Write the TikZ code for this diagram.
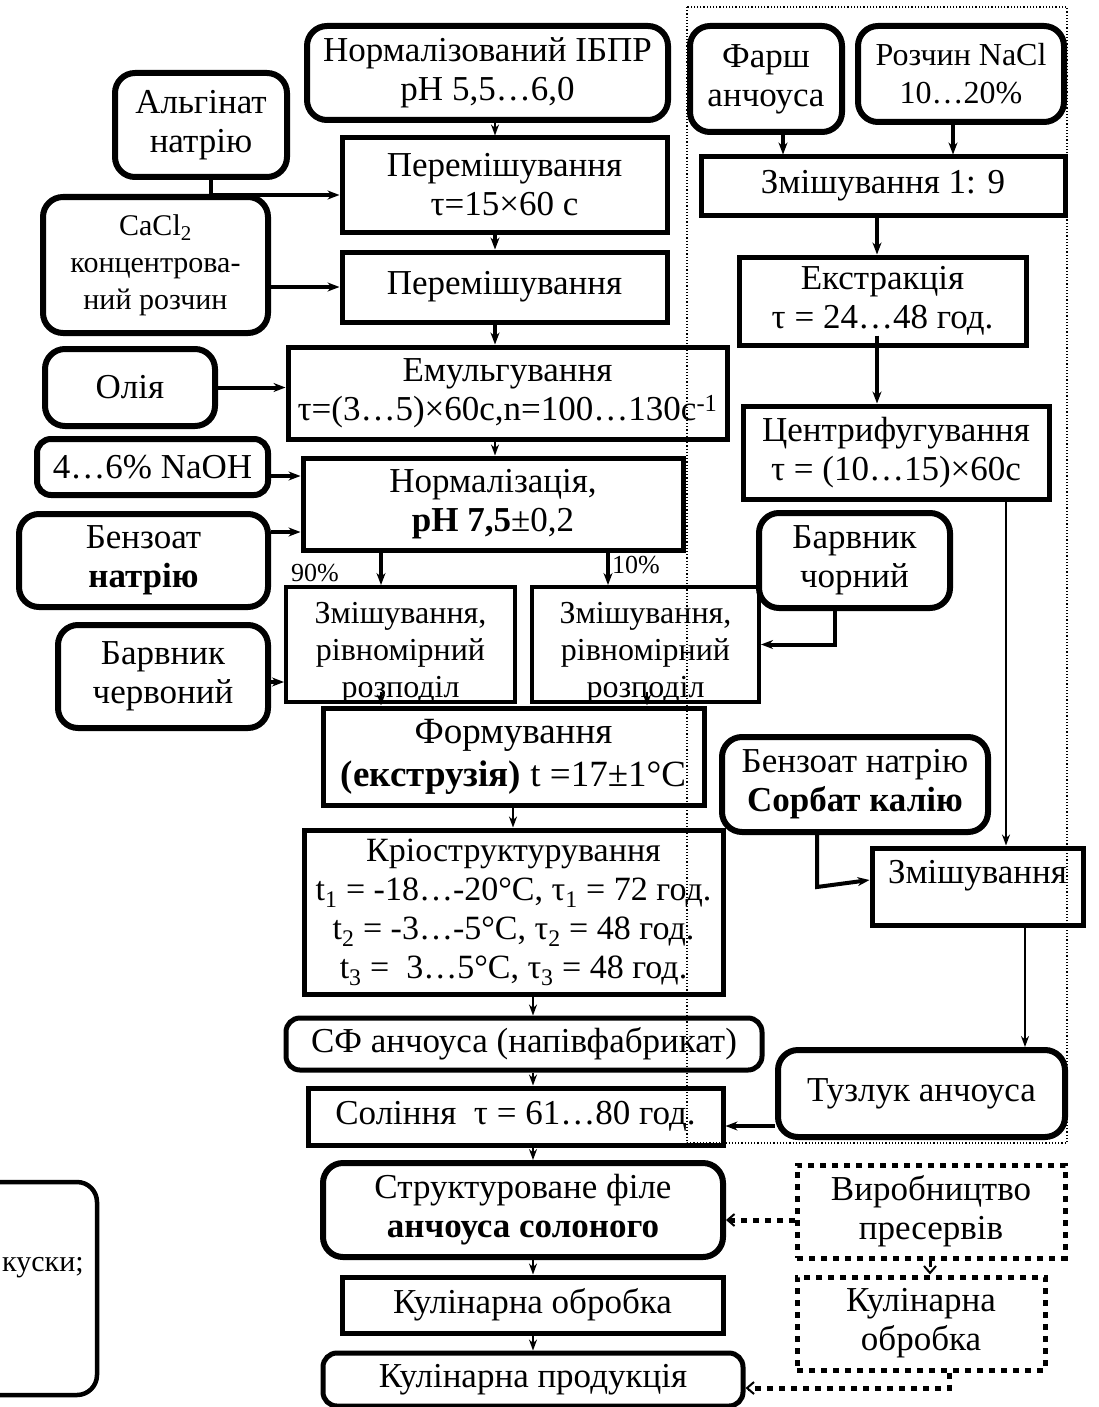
\documentclass[tikz,border=0pt]{standalone}
\usepackage{fontspec}
\setmainfont{Liberation Serif}
\usetikzlibrary{arrows.meta}

\tikzset{
  rbox/.style={draw, line width=6pt, rounded corners=20pt, align=center, inner sep=0pt},
  pbox/.style={draw, line width=5pt, align=center, inner sep=0pt},
  dbox/.style={draw, line width=5pt, dash pattern=on 6pt off 6pt, align=center, inner sep=0pt},
  txt/.style={align=center, inner sep=0pt},
  arr/.style={-{Stealth[length=12pt,width=9pt]}, line width=4pt},
  thinarr/.style={-{Stealth[length=11pt,width=8pt]}, line width=2.5pt},
  darr/.style={-{Straight Barb[length=7pt,width=12pt,line width=2pt]}, line width=5pt, dash pattern=on 6pt off 6pt},
}

\begin{document}
\begin{tikzpicture}[x=1pt,y=-1pt,font=\fontsize{35}{39}\selectfont]
\useasboundingbox (0,0) rectangle (1099,1407);

% axes of the connectors
\coordinate (xa) at (495,0);
\coordinate (x90) at (381,0);
\coordinate (x10) at (608,0);
\coordinate (xR) at (647,0);
\coordinate (xf) at (513,0);
\coordinate (xb) at (533,0);
\coordinate (xalg) at (211,0);
\coordinate (xblk) at (835,0);
\coordinate (xfarsh) at (783,0);
\coordinate (xnacl) at (953,0);
\coordinate (xex) at (877,0);
\coordinate (xcen) at (1006,0);
\coordinate (xpres) at (817,0);
\coordinate (xmixb) at (1025,0);
\coordinate (xpre) at (930,0);
\coordinate (xck) at (949,0);
\coordinate (yalg) at (0,195);
\coordinate (ynaoh) at (0,476);
\coordinate (ybenz) at (0,532);
\coordinate (yred) at (0,682);
\coordinate (ypres) at (0,887);
\coordinate (ypres2) at (0,880);
\coordinate (ytuz) at (0,1126);
\coordinate (yfil) at (0,1220);
\coordinate (yprod) at (0,1388);

% left column
\node[rbox, minimum width=361pt, minimum height=94pt] (ibpr) at (487.5,73) {Нормалізований ІБПР\\pH 5,5…6,0};
\node[rbox, minimum width=172pt, minimum height=104pt] (alg) at (201,125) {Альгінат\\натрію};
\node[pbox, minimum width=325pt, minimum height=94pt] (mix1) at (504.5,185) {Перемішування\\τ=15×60 с};
\node[rbox, minimum width=225pt, minimum height=136pt, font=\fontsize{30}{37}\selectfont] (cacl) at (155.5,265) {CaCl\textsubscript{2}\\концентрова-\\ний розчин};
\node[pbox, minimum width=325pt, minimum height=70pt] (mix2) at (504.5,287) {Перемішування};
\node[rbox, minimum width=170pt, minimum height=77pt] (oil) at (130,387.5) {Олія};
\node[pbox, minimum width=439pt, minimum height=92pt] (emul) at (507.5,393) {Емульгування\\τ=(3…5)×60c,n=100…130c\textsuperscript{-1}};
\node[rbox, rounded corners=14pt, minimum width=231pt, minimum height=56pt] (naoh) at (152.5,467) {4…6\% NaOH};
\node[pbox, minimum width=380pt, minimum height=92pt] (norm) at (493,504) {Нормалізація,\\\textbf{pH 7,5}±0,2};
\node[rbox, minimum width=249pt, minimum height=93pt] (benz) at (143.5,560.5) {Бензоат\\\textbf{натрію}};
\node[txt, font=\fontsize{26}{30}\selectfont] (p90) at (315,573) {90\%};
\node[txt, font=\fontsize{26}{30}\selectfont] (p10) at (636,565) {10\%};
\node[pbox, line width=4pt, minimum width=229pt, minimum height=115pt] (mixL) at (400.5,644.5) {};
\node[txt, anchor=north, font=\fontsize{32}{37}\selectfont] (mixLt) at (400.5,602) {Змішування,\\рівномірний\\розподіл};
\node[pbox, line width=4pt, minimum width=227pt, minimum height=115pt] (mixR) at (645.5,644.5) {};
\node[txt, anchor=north, font=\fontsize{32}{37}\selectfont] (mixRt) at (645.5,602) {Змішування,\\рівномірний\\розподіл};
\node[rbox, minimum width=210pt, minimum height=103pt] (red) at (163,676.5) {Барвник\\червоний};
\node[pbox, minimum width=381pt, minimum height=97pt, font=\fontsize{37}{43}\selectfont] (form) at (513.5,756.5) {Формування\\\textbf{(екструзія)} t =17±1°C};
\node[pbox, minimum width=419pt, minimum height=164pt, font=\fontsize{34}{39}\selectfont] (cryo) at (513.5,912) {Кріоструктурування\\t\textsubscript{1} = -18…-20°C, τ\textsubscript{1} = 72 год.\\t\textsubscript{2} = -3…-5°C, τ\textsubscript{2} = 48 год.\\t\textsubscript{3} = \ 3…5°C, τ\textsubscript{3} = 48 год.};
\node[rbox, line width=5pt, rounded corners=14pt, minimum width=476pt, minimum height=52pt] (sf) at (524,1044) {СФ анчоуса (напівфабрикат)};
\node[pbox, minimum width=415pt, minimum height=57pt] (salt) at (515.5,1116.5) {Соління \ τ = 61…80 год.};
\node[rbox, minimum width=400pt, minimum height=94pt] (fillet) at (523,1210) {Структуроване філе\\\textbf{анчоуса солоного}};
\node[pbox, minimum width=381pt, minimum height=56pt] (cook) at (532.5,1305) {Кулінарна обробка};
\node[rbox, line width=5pt, rounded corners=14pt, minimum width=420pt, minimum height=53pt] (prod) at (533,1379.5) {Кулінарна продукція};
\node[rbox, line width=4.5pt, minimum width=217pt, minimum height=213pt] (snack) at (-11.5,1288.5) {};
\node[txt, anchor=west, font=\fontsize{30}{37}\selectfont] (snackt) at (2,1268) {куски;};

% right column
\node[rbox, minimum width=152pt, minimum height=106pt] (farsh) at (766,79) {Фарш\\анчоуса};
\node[rbox, minimum width=206pt, minimum height=96pt, font=\fontsize{32}{38}\selectfont] (nacl) at (961,74) {Розчин NaCl\\10…20\%};
\node[pbox, minimum width=364pt, minimum height=58pt] (mix19) at (883,186) {Змішування 1: 9};
\node[pbox, minimum width=287pt, minimum height=88pt] (extr) at (882.5,301) {Екстракція\\τ = 24…48 год.};
\node[pbox, minimum width=306pt, minimum height=93pt] (centr) at (896,452.5) {Центрифугування\\τ = (10…15)×60c};
\node[rbox, minimum width=191pt, minimum height=95pt] (black) at (854.5,560.5) {Барвник\\чорний};
\node[rbox, minimum width=266pt, minimum height=95pt] (pres) at (855,784.5) {Бензоат натрію\\\textbf{Сорбат калію}};
\node[pbox, minimum width=211pt, minimum height=77pt] (mixB) at (977.5,886.5) {\raisebox{11pt}[\height][\depth]{Змішування}};
\node[rbox, minimum width=287pt, minimum height=87pt] (brine) at (921.5,1093.5) {Тузлук анчоуса};
\node[dbox, minimum width=268pt, minimum height=93pt] (preserv) at (931,1211.5) {Виробництво\\пресервів};
\node[dbox, minimum width=248pt, minimum height=93pt] (cook2) at (921,1323.5) {Кулінарна\\обробка};

% main line
\draw[thinarr] (ibpr.south -| xa) -- (mix1.north -| xa);
\draw[arr] (mix1.south -| xa) -- (mix2.north -| xa);
\draw[arr] (mix2.south -| xa) -- (emul.north -| xa);
\draw[thinarr] (emul.south -| xa) -- (norm.north -| xa);
\draw[arr] (norm.south -| x90) -- (mixL.north -| x90);
\draw[arr] (norm.south -| x10) -- (mixR.north -| x10);
\draw[thinarr] ([yshift=12pt]mixL.south -| x90) -- (form.north -| x90);
\draw[thinarr] ([yshift=12pt]mixR.south -| xR) -- (form.north -| xR);
\draw[thinarr] (form.south -| xf) -- (cryo.north -| xf);
\draw[thinarr] (cryo.south -| xb) -- (sf.north -| xb);
\draw[thinarr] (sf.south -| xb) -- (salt.north -| xb);
\draw[thinarr] (salt.south -| xb) -- (fillet.north -| xb);
\draw[thinarr] (fillet.south -| xb) -- (cook.north -| xb);
\draw[thinarr] (cook.south -| xb) -- (prod.north -| xb);

% additions
\draw[arr] (alg.south -| xalg) |- (mix1.west |- yalg);
\draw[arr] (cacl.east |- mix2.west) -- (mix2.west);
\draw[arr] (oil.east) -- (oil.east -| emul.west);
\draw[arr] (naoh.east |- ynaoh) -- (norm.west |- ynaoh);
\draw[arr] (benz.east |- ybenz) -- (norm.west |- ybenz);
\draw[arr] (red.east |- yred) -- (mixL.west |- yred);
\draw[arr] (black.south -| xblk) |- (mixR.east);

% brine line
\draw[arr] (farsh.south -| xfarsh) -- (mix19.north -| xfarsh);
\draw[arr] (nacl.south -| xnacl) -- (mix19.north -| xnacl);
\draw[arr] (mix19.south -| xex) -- (extr.north -| xex);
\draw[arr] ([yshift=12pt]extr.south -| xex) -- (centr.north -| xex);
\draw[thinarr] ([yshift=4pt]centr.south -| xcen) -- (mixB.north -| xcen);
\draw[arr] (pres.south -| xpres) -- (xpres |- ypres) -- (mixB.west |- ypres2);
\draw[thinarr] (mixB.south -| xmixb) -- (brine.north -| xmixb);
\draw[arr] (brine.west |- ytuz) -- (salt.east |- ytuz);

% dotted branch
\draw[darr] (preserv.west |- yfil) -- (fillet.east |- yfil);
\draw[darr, line width=3pt] (preserv.south -| xpre) -- (cook2.north -| xpre);
\draw[darr] (cook2.south -| xck) |- (prod.east |- yprod);

% frame of the brine line
\draw[dotted, line width=1.2pt] (687,7) rectangle (1067,1143);
\end{tikzpicture}
\end{document}
